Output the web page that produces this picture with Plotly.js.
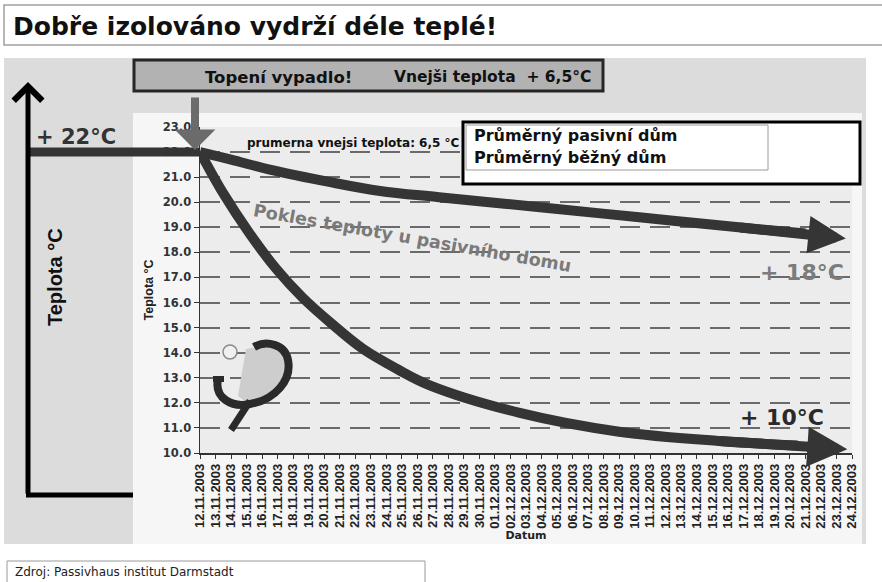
<!DOCTYPE html>
<html><head><meta charset="utf-8">
<script src="https://cdn.plot.ly/plotly-3.0.1.min.js"></script>
<style>body{margin:0;background:#fff}</style>
</head><body><div id="chart" style="width:882px;height:582px"></div>
<script>
// ---- data ----
const dateLabels = [
  "12.11.2003","13.11.2003","14.11.2003","15.11.2003","16.11.2003","17.11.2003","18.11.2003",
  "19.11.2003","20.11.2003","21.11.2003","22.11.2003","23.11.2003","24.11.2003","25.11.2003",
  "26.11.2003","27.11.2003","28.11.2003","29.11.2003","30.11.2003","01.12.2003","02.12.2003",
  "03.12.2003","04.12.2003","05.12.2003","06.12.2003","07.12.2003","08.12.2003","09.12.2003",
  "10.12.2003","11.12.2003","12.12.2003","13.12.2003","14.12.2003","15.12.2003","16.12.2003",
  "17.12.2003","18.12.2003","19.12.2003","20.12.2003","21.12.2003","22.12.2003","23.12.2003",
  "24.12.2003"
];
// passive house (day index, °C)
const passiveDays = [0, 2, 4.5, 8.4, 11.6, 15.4, 21.9, 28.3, 34.7, 39.0];
const passiveTemp = [22.0, 21.7, 21.3, 20.8, 20.45, 20.2, 19.8, 19.4, 19.0, 18.75];
const passiveTip  = [41.6, 18.55];
// standard house (day index, °C)
const standardDays = [0, 1.5, 3.2, 4.9, 6.6, 8.4, 10.5, 12.7, 14.8, 20.6, 27.0, 33.4, 38.5];
const standardTemp = [22.0, 20.35, 18.75, 17.35, 16.2, 15.2, 14.15, 13.35, 12.7, 11.6, 10.85, 10.48, 10.3];
const standardTip  = [41.7, 10.15];

const startTemp = 22;

// ---- geometry helpers (pixel -> paper) ----
const L = 200, R = 852, T = 127, B = 453;
const PX = x => (x - L) / (R - L);
const PY = y => (B - y) / (B - T);
const pt = (x, y) => PX(x) + ',' + PY(y);

const F = '"DejaVu Sans", Verdana, sans-serif';
const FA = 'Arial, "Liberation Sans", sans-serif';
function txt(x, y, text, size, opts, color, family) {
  return Object.assign({
    xref: 'paper', yref: 'paper', x: PX(x), y: PY(y), text: text, showarrow: false,
    xanchor: 'left', yanchor: 'middle',
    font: {family: family || F, size: size, color: color || '#111', weight: 'bold'}
  }, opts || {});
}
function rect(x0, y0, x1, y1, fill, line, lw, layer) {
  return {type: 'rect', xref: 'paper', yref: 'paper', x0: PX(x0), x1: PX(x1), y0: PY(y0), y1: PY(y1),
    fillcolor: fill, line: {color: line, width: lw}, layer: layer || 'below'};
}

const traces = [
  {x: passiveDays, y: passiveTemp, mode: 'lines', line: {color: '#353535', width: 10, shape: 'spline'},
   hoverinfo: 'skip', showlegend: false, cliponaxis: false},
  {x: standardDays, y: standardTemp, mode: 'lines', line: {color: '#353535', width: 10, shape: 'spline'},
   hoverinfo: 'skip', showlegend: false, cliponaxis: false}
];

const shapes = [
  rect(4, 5, 884, 45, '#ffffff', '#a0a0a0', 1.5),
  rect(4, 58, 866, 544, '#dcdcdc', 'rgba(0,0,0,0)', 0),
  rect(133, 113, 862, 544, '#f6f6f6', 'rgba(0,0,0,0)', 0),
  rect(200, 127, 852, 453, '#ececec', 'rgba(0,0,0,0)', 0),
  rect(134, 60, 603, 91, '#b2b2b2', '#262626', 3),
  rect(7, 561, 425, 592, '#ffffff', '#9a9a9a', 1),
  // left horizontal extension of the 22 °C line
  {type: 'line', xref: 'paper', yref: 'y', x0: PX(28), x1: 0, y0: startTemp, y1: startTemp,
   line: {color: '#353535', width: 9}, layer: 'below'},
  // bottom of big black axis
  {type: 'line', xref: 'paper', yref: 'paper', x0: PX(26), x1: PX(133), y0: PY(495), y1: PY(495),
   line: {color: '#000', width: 5}, layer: 'below'},
  // legend box
  rect(463, 122, 860, 184, '#ffffff', '#000000', 3, 'above'),
  rect(466, 125, 768, 170, '#ffffff', '#9a9a9a', 1, 'above'),
  // logo
  {type: 'path', xref: 'paper', yref: 'paper', layer: 'above',
   path: 'M' + pt(246, 349) + ' L' + pt(274, 344) + ' L' + pt(287, 360) + ' L' + pt(281, 386) +
         ' L' + pt(262, 400) + ' L' + pt(246, 402) + ' L' + pt(238, 396) + ' Z',
   fillcolor: '#cdcdcd', line: {width: 0}},
  {type: 'path', xref: 'paper', yref: 'paper', layer: 'above',
   path: 'M' + pt(218, 379) + ' C' + pt(214, 398) + ' ' + pt(232, 408) + ' ' + pt(250, 404) +
         ' C' + pt(275, 400) + ' ' + pt(292, 380) + ' ' + pt(288, 360) +
         ' C' + pt(285, 344) + ' ' + pt(266, 340) + ' ' + pt(254, 347),
   line: {color: '#2a2a2a', width: 8}},
  {type: 'line', xref: 'paper', yref: 'paper', layer: 'above',
   x0: PX(213), x1: PX(224), y0: PY(379), y1: PY(379), line: {color: '#2a2a2a', width: 6}},
  {type: 'line', xref: 'paper', yref: 'paper', layer: 'above',
   x0: PX(250), x1: PX(231), y0: PY(401), y1: PY(430), line: {color: '#2a2a2a', width: 7}},
  {type: 'circle', xref: 'paper', yref: 'paper', layer: 'above',
   x0: PX(223), x1: PX(237), y0: PY(345), y1: PY(359), fillcolor: '#f0f0f0', line: {color: '#8a8a8a', width: 1.5}}
];

const nP = passiveDays.length, nS = standardDays.length;
const annotations = [
  txt(11, 26, 'Dobře izolováno vydrží déle teplé!', 25),
  txt(203, 77, 'Topení vypadlo!', 16.5),
  txt(392, 77, 'Vnejši teplota  + 6,5°C', 15.5),
  txt(245, 143, 'prumerna vnejsi teplota: 6,5 °C', 12),
  txt(472, 136, 'Průměrný pasivní dům', 16),
  txt(472, 157, 'Průměrný běžný dům', 16),
  txt(412, 238, 'Pokles teploty u pasivního domu', 17.5, {xanchor: 'center', textangle: 10}, '#7a7a7a'),
  txt(846, 272, '+ 18°C', 22, {xanchor: 'right'}, '#7c7c7c'),
  txt(826, 417, '+ 10°C', 22, {xanchor: 'right'}, '#2a2a2a'),
  txt(34, 137, '+ 22°C', 21, {}, '#333'),
  txt(55, 277, 'Teplota °C', 20, {xanchor: 'center', textangle: -90}, '#111', FA),
  txt(13, 572, 'Zdroj: Passivhaus institut Darmstadt', 12,
      {font: {family: F, size: 12, color: '#222', weight: 'normal'}}),
  // arrowheads
  {xref: 'x', yref: 'y', x: passiveTip[0], y: passiveTip[1], axref: 'x', ayref: 'y',
   ax: passiveDays[nP - 2], ay: passiveTemp[nP - 2],
   text: '', showarrow: true, arrowhead: 2, arrowsize: 0.75, arrowwidth: 10, arrowcolor: '#353535'},
  {xref: 'x', yref: 'y', x: standardTip[0], y: standardTip[1], axref: 'x', ayref: 'y',
   ax: standardDays[nS - 2], ay: standardTemp[nS - 2],
   text: '', showarrow: true, arrowhead: 2, arrowsize: 0.8, arrowwidth: 10, arrowcolor: '#353535'},
  // grey drop arrow
  {xref: 'paper', yref: 'paper', x: PX(195), y: PY(150), ax: 0, ay: -54, text: '', showarrow: true,
   arrowhead: 1, arrowsize: 0.85, arrowwidth: 8, arrowcolor: '#6b6b6b'},
  // big black axis arrow
  {xref: 'paper', yref: 'paper', x: PX(28), y: PY(82), ax: 0, ay: 413, text: '', showarrow: true,
   arrowhead: 4, arrowsize: 1.1, arrowwidth: 5, arrowcolor: '#000'}
];

const layout = {
  width: 882, height: 582,
  margin: {l: L, r: 882 - R, t: T, b: 582 - B},
  paper_bgcolor: '#ffffff', plot_bgcolor: 'rgba(0,0,0,0)',
  showlegend: false,
  xaxis: {
    range: [0, 42], tickvals: dateLabels.map((d, i) => i), ticktext: dateLabels,
    tickangle: -90, tickfont: {family: FA, size: 13, color: '#222', weight: 'bold'},
    showgrid: false, zeroline: false, showline: true, linecolor: '#333', linewidth: 1.5,
    ticks: 'outside', ticklen: 4, tickcolor: '#333',
    title: {text: 'Datum', font: {family: F, size: 11, color: '#222', weight: 'bold'}, standoff: 3}
  },
  yaxis: {
    range: [10, 23], dtick: 1, tickformat: '.1f',
    tickfont: {family: F, size: 11.5, color: '#333', weight: 'bold'},
    showgrid: true, gridcolor: '#6a6a6a', gridwidth: 2, griddash: '20px,10px',
    zeroline: false, showline: true, linecolor: '#333', linewidth: 1.5,
    ticks: 'outside', ticklen: 5, tickcolor: '#333',
    title: {text: 'Teplota °C', font: {family: FA, size: 12.5, color: '#222', weight: 'bold'}, standoff: 6}
  },
  shapes: shapes,
  annotations: annotations
};

Plotly.newPlot('chart', traces, layout, {displayModeBar: false, staticPlot: true});
</script>
</body></html>
